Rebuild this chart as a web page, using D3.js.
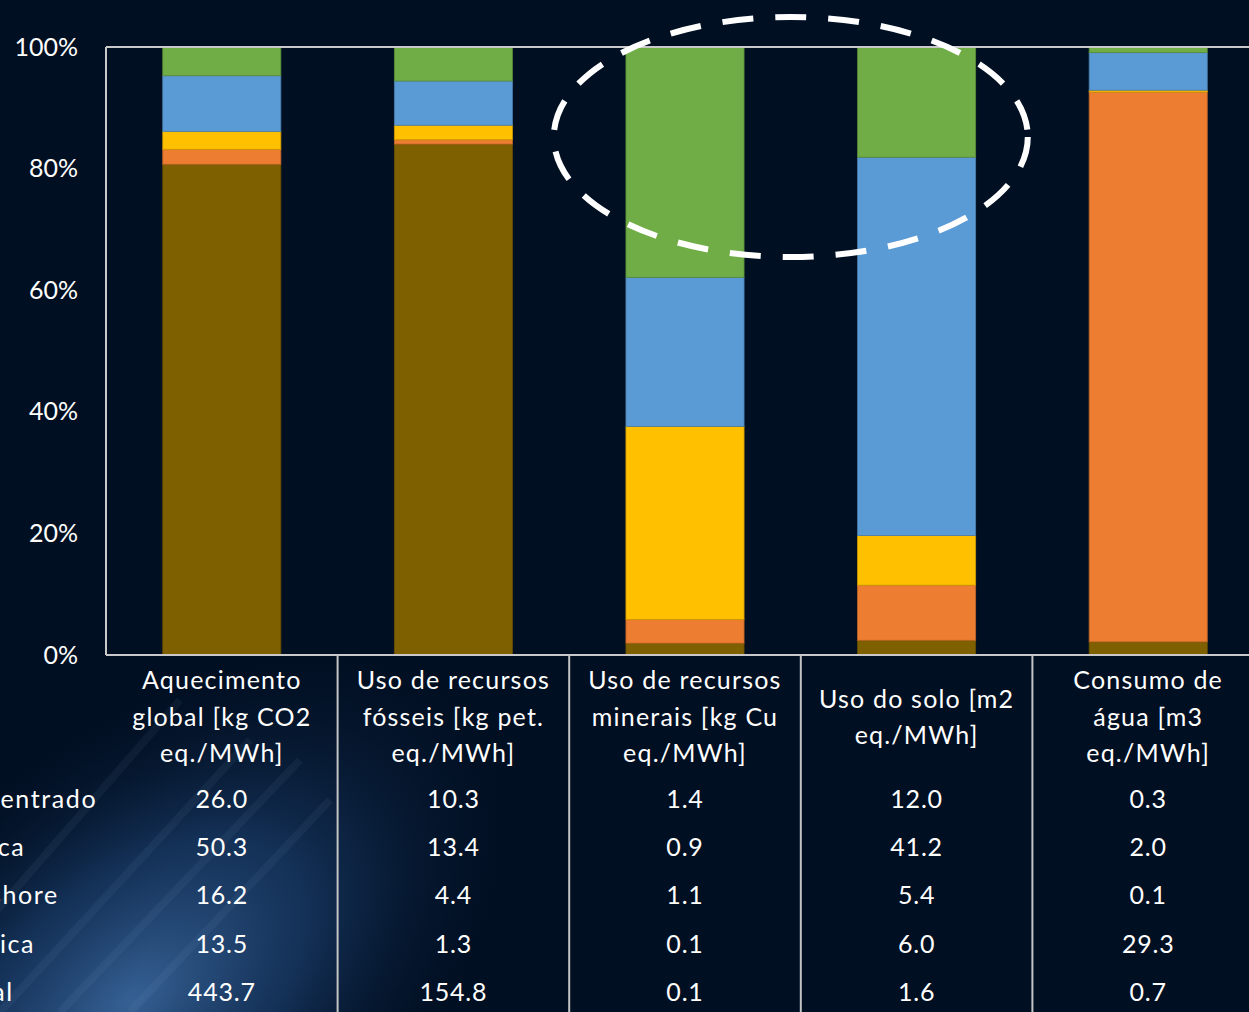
<!DOCTYPE html>
<html>
<head>
<meta charset="UTF-8">
<style>
body {
	margin: 0 ;
	background-color: #010f22 ;
	overflow: hidden ;
}
text {
	font-family: Lato, "Open Sans", sans-serif ;
	fill: #ffffff ;
}
</style>
<title>ACV</title>
<script src="https://cdn.jsdelivr.net/npm/d3@7/dist/d3.min.js"></script>
</head>
<body>
<svg id="chart" width="1249" height="1012"></svg>

<script type="text/javascript" charset="utf-8">

	// categories (header of the table, one entry per line)
	const categories = [ "aq", "fos", "min", "solo", "agua" ] ;
	const categoryLines = [
		[ "Aquecimento", "global [kg CO2", "eq./MWh]" ],
		[ "Uso de recursos", "fósseis [kg pet.", "eq./MWh]" ],
		[ "Uso de recursos", "minerais [kg Cu", "eq./MWh]" ],
		[ "Uso do solo [m2", "eq./MWh]" ],
		[ "Consumo de", "água [m3", "eq./MWh]" ]
	] ;

	// technologies, top row of the table first
	const technologies = [ "Solar concentrado", "Fotovoltaica", "Eólica offshore", "Hidroelétrica", "Gás natural" ] ;

	// values as printed in the table (mineral column estimated a bit finer from the bars)
	const solarConcentrado = [ 26.0, 10.3, 1.36, 12.0, 0.3 ] ;
	const fotovoltaica     = [ 50.3, 13.4, 0.88, 41.2, 2.0 ] ;
	const eolicaOffshore   = [ 16.2, 4.4, 1.14, 5.4, 0.1 ] ;
	const hidroeletrica    = [ 13.5, 1.3, 0.14, 6.0, 29.3 ] ;
	const gasNatural       = [ 443.7, 154.8, 0.07, 1.6, 0.7 ] ;

	const seriesColors = [ "#70ad47", "#5b9bd5", "#ffc000", "#ed7d31", "#7f6000" ] ;
	const yTicks = [ 0, 0.2, 0.4, 0.6, 0.8, 1.0 ] ;

	const allSeries = [ solarConcentrado, fotovoltaica, eolicaOffshore, hidroeletrica, gasNatural ] ;

	// one row per category, one key per technology
	const rows = categories.map( function(c, i) {
		const r = { cat: c } ;
		technologies.forEach( function(t, j) { r[t] = allSeries[j][i] } ) ;
		return r ;
	}) ;

	const svg = d3.select( "#chart" ) ;
	const W = 1249, H = 1012 ;
	const plotLeft = 106, plotTop = 47, plotBottom = 655 ;
	const bandW = 231.6 ;

	// background glow, bottom left
	const defs = svg.append( "defs" ) ;
	const glow = defs.append( "radialGradient" )
		.attr( "id", "glow" )
		.attr( "gradientUnits", "userSpaceOnUse" )
		.attr( "cx", 130 ).attr( "cy", 1000 ).attr( "r", 380 )
		.attr( "gradientTransform", "translate(130,1000) rotate(-40) scale(1.25,0.7) translate(-130,-1000)" ) ;
	glow.append( "stop" ).attr( "offset", "0" ).attr( "stop-color", "#3f6fa8" ).attr( "stop-opacity", 0.85 ) ;
	glow.append( "stop" ).attr( "offset", "0.45" ).attr( "stop-color", "#1f4577" ).attr( "stop-opacity", 0.6 ) ;
	glow.append( "stop" ).attr( "offset", "1" ).attr( "stop-color", "#010f22" ).attr( "stop-opacity", 0 ) ;

	svg.append( "rect" ).attr( "width", W ).attr( "height", H ).attr( "fill", "#010f22" ) ;
	svg.append( "rect" ).attr( "width", W ).attr( "height", H ).attr( "fill", "url(#glow)" ) ;

	// a few faint diagonal streaks
	const streaks = [ [ 60, 1012, 300, 760 ], [ 130, 1012, 330, 800 ], [ -20, 930, 180, 700 ], [ 0, 1012, 250, 740 ] ] ;
	svg.append( "g" ).selectAll( "line" )
		.data( streaks ).enter().append( "line" )
			.attr( "x1", function(d) { return d[0] } ).attr( "y1", function(d) { return d[1] } )
			.attr( "x2", function(d) { return d[2] } ).attr( "y2", function(d) { return d[3] } )
			.attr( "stroke", "#a9c6ea" ).attr( "stroke-opacity", 0.06 ).attr( "stroke-width", 8 ) ;

	const x = d3.scaleBand()
		.domain( categories )
		.range( [ plotLeft, plotLeft + bandW * categories.length ] )
		.paddingInner( 0.49 )
		.paddingOuter( 0.245 ) ;

	const y = d3.scaleLinear()
		.domain( [ 0, 1 ] )
		.range( [ plotBottom, plotTop ] ) ;

	// gas natural at the bottom, solar concentrado on top
	const stack = d3.stack()
		.keys( technologies.slice().reverse() )
		.offset( d3.stackOffsetExpand ) ;
	const stacked = stack( rows ) ;

	const colorOf = d3.scaleOrdinal().domain( technologies ).range( seriesColors ) ;

	svg.append( "g" ).selectAll( "g" )
		.data( stacked ).enter().append( "g" )
			.attr( "fill", function(s) { return colorOf( s.key ) } )
			.attr( "stroke", function(s) { return d3.color( colorOf( s.key ) ).darker( 0.6 ) } )
			.attr( "stroke-width", 0.8 )
		.selectAll( "rect" )
		.data( function(s) { return s } ).enter().append( "rect" )
			.attr( "x", function(d) { return x( d.data.cat ) } )
			.attr( "width", x.bandwidth() )
			.attr( "y", function(d) { return y( d[1] ) } )
			.attr( "height", function(d) { return y( d[0] ) - y( d[1] ) } ) ;

	// frame of the plot area
	const frame = svg.append( "g" ).attr( "stroke", "#c9c9c9" ).attr( "stroke-width", 2 ).attr( "fill", "none" ) ;
	frame.append( "line" ).attr( "x1", plotLeft ).attr( "x2", W ).attr( "y1", y(1) ).attr( "y2", y(1) ) ;
	frame.append( "line" ).attr( "x1", plotLeft ).attr( "x2", W ).attr( "y1", y(0) ).attr( "y2", y(0) ) ;
	frame.append( "line" ).attr( "x1", plotLeft ).attr( "x2", plotLeft ).attr( "y1", y(1) ).attr( "y2", y(0) ) ;

	// y axis
	const yAxis = d3.axisLeft( y )
		.tickValues( yTicks )
		.tickFormat( d3.format( ".0%" ) )
		.tickSize( 0 )
		.tickPadding( 28 ) ;
	const ya = svg.append( "g" ).attr( "transform", "translate(" + plotLeft + ",0)" ).call( yAxis ) ;
	ya.select( ".domain" ).remove() ;
	ya.selectAll( "text" )
		.attr( "fill", "#ffffff" )
		.style( "font-size", "25px" )
		.style( "font-family", "Lato, sans-serif" ) ;

	// table column separators
	svg.append( "g" ).selectAll( "line" )
		.data( categories.slice( 1 ) ).enter().append( "line" )
			.attr( "x1", function(c) { return x( c ) - x.step() * x.paddingInner() / 2 } )
			.attr( "x2", function(c) { return x( c ) - x.step() * x.paddingInner() / 2 } )
			.attr( "y1", plotBottom )
			.attr( "y2", H )
			.attr( "stroke", "#c4c4c4" )
			.attr( "stroke-width", 2 ) ;

	// table header
	const lineH = 36.5 ;
	const headerMid = 717 ;
	const header = svg.append( "g" ) ;
	categories.forEach( function(c, i) {
		const lines = categoryLines[i] ;
		const cx = x( c ) + x.bandwidth() / 2 ;
		lines.forEach( function(l, k) {
			header.append( "text" )
				.attr( "x", cx )
				.attr( "y", headerMid + ( k - ( lines.length - 1 ) / 2 ) * lineH )
				.attr( "dy", "0.35em" )
				.attr( "text-anchor", "middle" )
				.style( "font-size", "25px" )
				.style( "letter-spacing", "1.2px" )
				.text( l ) ;
		}) ;
	}) ;

	// table body
	const rowY = d3.scalePoint()
		.domain( technologies )
		.range( [ 799, 992 ] ) ;
	const fmt = d3.format( ".1f" ) ;

	const body = svg.append( "g" ) ;
	technologies.forEach( function(t, j) {
		body.append( "text" )
			.attr( "x", -128 )
			.attr( "y", rowY( t ) )
			.attr( "dy", "0.35em" )
			.style( "font-size", "25px" )
			.style( "letter-spacing", "1.6px" )
			.text( t ) ;
		categories.forEach( function(c, i) {
			body.append( "text" )
				.attr( "x", x( c ) + x.bandwidth() / 2 )
				.attr( "y", rowY( t ) )
				.attr( "dy", "0.35em" )
				.attr( "text-anchor", "middle" )
				.style( "font-size", "25px" )
				.style( "letter-spacing", "0.8px" )
				.text( fmt( allSeries[j][i] ) ) ;
		}) ;
	}) ;

	// dashed highlight around the two mineral / land bars
	const hx = x( "solo" ) - x.step() * x.paddingInner() / 2 - 10 ;
	svg.append( "ellipse" )
		.attr( "cx", hx )
		.attr( "cy", 137 )
		.attr( "rx", 237 )
		.attr( "ry", 120 )
		.attr( "fill", "none" )
		.attr( "stroke", "#ffffff" )
		.attr( "stroke-width", 6 )
		.attr( "stroke-dasharray", "31 22" ) ;

</script>
</body>
</html>
